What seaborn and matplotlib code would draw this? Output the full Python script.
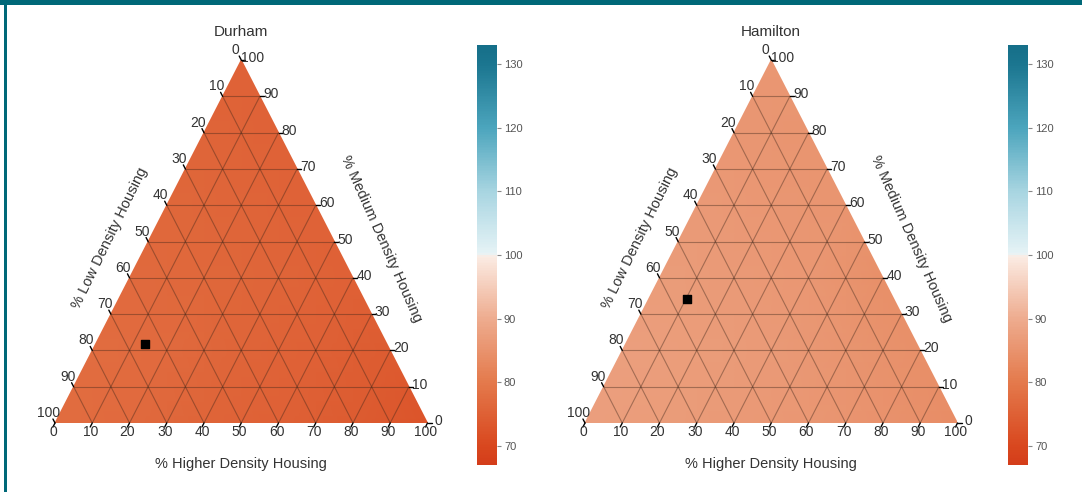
import numpy as np
import matplotlib
matplotlib.use("Agg")
import matplotlib.pyplot as plt
import matplotlib.tri as mtri
import matplotlib.transforms as mtransforms
from matplotlib.colors import LinearSegmentedColormap
from matplotlib.patches import Rectangle
import seaborn as sns

sns.set_theme(style="white")
plt.rcParams["font.family"] = ["Liberation Sans", "DejaVu Sans"]

# ---- data -------------------------------------------------------------
cities = ["Durham", "Hamilton"]

# lattice of index values, one row per % Medium level (0, 20, ..., 100),
# entries run along % Higher (0, 20, ...) within each row
medium_levels = [0, 20, 40, 60, 80, 100]
durham_values = [
    [77.5, 77.0, 76.0, 75.0, 74.0, 72.5],
    [77.5, 77.0, 76.0, 75.0, 74.0],
    [77.0, 76.5, 76.0, 75.0],
    [76.5, 76.0, 75.5],
    [76.0, 75.5],
    [75.5],
]
hamilton_values = [
    [87.5, 87.0, 86.5, 86.0, 85.0, 84.0],
    [87.5, 87.0, 86.5, 85.5, 84.5],
    [87.0, 86.5, 86.0, 84.5],
    [86.5, 86.0, 85.5],
    [86.0, 85.5],
    [86.0],
]
city_values = [durham_values, hamilton_values]

# current mix (% Low, % Medium, % Higher)
current_low = [64.9, 55.5]
current_medium = [21.8, 34.2]
current_higher = [13.3, 10.3]

tick_values = [0, 10, 20, 30, 40, 50, 60, 70, 80, 90, 100]
cbar_ticks = [70, 80, 90, 100, 110, 120, 130]
vmin, vmax = 67, 133

# ---- colour map -------------------------------------------------------
def pos(v):
    return (v - vmin) / (vmax - vmin)

cmap = LinearSegmentedColormap.from_list(
    "rose_teal",
    [
        (0.0, "#d43d1a"),
        (pos(70), "#d9481f"),
        (pos(80), "#e47a4c"),
        (pos(90), "#eeac8f"),
        (pos(99.8), "#fbece4"),
        (pos(100.2), "#e6f3f6"),
        (pos(110), "#a8d5e1"),
        (pos(120), "#4ca5bd"),
        (pos(130), "#1b7690"),
        (1.0, "#156f89"),
    ],
)

TEXT = "#333333"


def to_xy(higher, medium):
    """Ternary (% Higher, % Medium) -> plotting plane."""
    higher = np.asarray(higher, dtype=float)
    medium = np.asarray(medium, dtype=float)
    return higher + medium / 2.0, medium


def draw_ternary(fig, rect, cax_rect, title, values, low, med, high, lab_centers):
    ax = fig.add_axes(rect)
    ax.set_xlim(0, 100)
    ax.set_ylim(0, 100)
    ax.axis("off")

    # lattice nodes
    hs, ms, zs = [], [], []
    for m, row in zip(medium_levels, values):
        for j, v in enumerate(row):
            hs.append(j * 20)
            ms.append(m)
            zs.append(v)
    x, y = to_xy(hs, ms)
    tri = mtri.Triangulation(x, y)
    pc = ax.tripcolor(tri, np.array(zs), shading="gouraud", cmap=cmap,
                      vmin=vmin, vmax=vmax, rasterized=True)

    # grid lines for the three families
    gkw = dict(color="#3a2418", alpha=0.4, lw=0.8, zorder=3)
    for t in tick_values[1:-1]:
        # constant medium (horizontal)
        xa, ya = to_xy([0, 100 - t], [t, t])
        ax.plot(xa, ya, **gkw)
        # constant higher
        xa, ya = to_xy([t, t], [0, 100 - t])
        ax.plot(xa, ya, **gkw)
        # constant low: higher + medium = 100 - t
        xa, ya = to_xy([0, 100 - t], [100 - t, 0])
        ax.plot(xa, ya, **gkw)

    def off(dx, dy):
        return mtransforms.offset_copy(ax.transData, fig=fig, x=dx, y=dy, units="dots")

    tkw = dict(fontsize=10, color=TEXT, ha="center", va="center", zorder=5)
    lkw = dict(color="black", lw=1.0, zorder=5, clip_on=False)
    for t in tick_values:
        # bottom axis: % Higher
        bx, by = to_xy(t, 0)
        ax.plot([bx, bx - 0.55], [by, by - 1.1], **lkw)
        ax.text(bx, by, str(t), transform=off(-2, -9), **tkw)
        # left axis: % Low (0 at top)
        lx, ly = to_xy(0, 100 - t)
        ax.plot([lx, lx - 0.55], [ly, ly + 1.1], **lkw)
        ax.text(lx, ly, str(t), transform=off(-6, 10), **tkw)
        # right axis: % Medium (0 at bottom right)
        rx, ry = to_xy(100 - t, t)
        ax.plot([rx, rx + 1.1], [ry, ry], **lkw)
        ax.text(rx, ry, str(t), transform=off(11, 2), **tkw)

    # current position
    mx, my = to_xy(high, med)
    ax.scatter([mx], [my], marker="s", s=30, color="black", zorder=6)

    # titles and axis names (figure-pixel positions)
    W, H = fig.bbox.width, fig.bbox.height
    (tx, ty), (lcx, lcy), (mcx, mcy), (hcx, hcy) = lab_centers
    fig.text(tx / W, 1 - ty / H, title, fontsize=11, color=TEXT, ha="center", va="center")
    fig.text(lcx / W, 1 - lcy / H, "% Low Density Housing", fontsize=10.5, color=TEXT,
             rotation=64, ha="center", va="center", rotation_mode="anchor")
    fig.text(mcx / W, 1 - mcy / H, "% Medium Density Housing", fontsize=10.5, color=TEXT,
             rotation=-66, ha="center", va="center", rotation_mode="anchor")
    fig.text(hcx / W, 1 - hcy / H, "% Higher Density Housing", fontsize=10.5, color=TEXT,
             ha="center", va="center")

    cax = fig.add_axes(cax_rect)
    cb = fig.colorbar(pc, cax=cax, ticks=cbar_ticks)
    cb.outline.set_visible(False)
    cb.ax.tick_params(labelsize=8, colors="#555555", length=3, width=0.8, pad=2)
    cb.ax.yaxis.set_tick_params(color="#888888")
    return ax


fig = plt.figure(figsize=(10.82, 4.92), dpi=100)
fig.patch.set_facecolor("white")

W_px, H_px = 1082.0, 492.0
tri_w, tri_h = 372.5, 363.0
tri_bottom = 423.0
left_vertices = [55.0, 585.0]
cbar_lefts = [477.0, 1008.0]

for i, city in enumerate(cities):
    lv = left_vertices[i]
    rect = [lv / W_px, (H_px - tri_bottom) / H_px, tri_w / W_px, tri_h / H_px]
    cax_rect = [cbar_lefts[i] / W_px, (H_px - 465) / H_px, 20 / W_px, 420 / H_px]
    cx = lv + tri_w / 2
    centers = [(cx, 32), (lv + 55, 238), (lv + 326, 239), (cx, 464)]
    draw_ternary(fig, rect, cax_rect, city, city_values[i],
                 current_low[i], current_medium[i], current_higher[i], centers)

# teal frame along the top and left edges
frame = "#006878"
fig.patches.append(Rectangle((0, 1 - 5 / H_px), 1, 5 / H_px, transform=fig.transFigure,
                             facecolor=frame, edgecolor="none", zorder=10))
fig.patches.append(Rectangle((4 / W_px, 0), 3 / W_px, 1, transform=fig.transFigure,
                             facecolor=frame, edgecolor="none", zorder=10))

fig.savefig("out.png", dpi=100)
